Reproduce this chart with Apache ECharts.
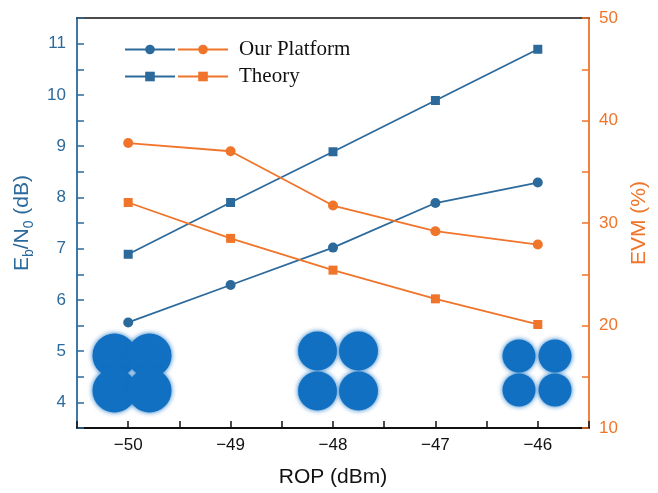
<!DOCTYPE html>
<html>
<head>
<meta charset="utf-8">
<script src="https://cdn.jsdelivr.net/npm/echarts@6/dist/echarts.min.js"></script>
<style>html,body{margin:0;padding:0;background:#fff;}#c{width:658px;height:493px;}</style>
</head>
<body>
<div id="c"></div>
<script>
// ---- data ----
var rop = [-50, -49, -48, -47, -46];
var ebn0Platform = [5.56, 6.29, 7.02, 7.89, 8.29];
var ebn0Theory = [6.89, 7.90, 8.89, 9.89, 10.89];
var evmPlatform = [37.8, 37.0, 31.7, 29.2, 27.9];
var evmTheory = [32.0, 28.5, 25.4, 22.6, 20.1];
// QPSK constellation symbol positions (I, Q)
var qpskPoints = [[-1, 1], [1, 1], [-1, -1], [1, -1]];
var legendNames = ['Our Platform', 'Theory'];

var BLUE = '#2c6a9c', ORANGE = '#f0742a', CBLUE = '#1170c2';

function pairs(xs, ys) { return xs.map(function (x, i) { return [x, ys[i]]; }); }

var chart = echarts.init(document.getElementById('c'), null, {renderer: 'canvas'});

var insets = [
  {left: 97, top: 338, width: 70, height: 70, size: 44},
  {left: 297, top: 331, width: 82, height: 80, size: 39},
  {left: 501, top: 339, width: 72, height: 68, size: 33}
];

var grids = [{left: 77, right: 69, top: 18, bottom: 63}];
var xAxes = [
  {type: 'value', min: -50.5, max: -45.5, interval: 0.5, gridIndex: 0,
   axisLine: {lineStyle: {color: '#111', width: 1.8}},
   axisTick: {inside: true, length: 7, lineStyle: {color: '#111', width: 1.5}},
   splitLine: {show: false},
   axisLabel: {color: '#111', fontSize: 17, fontFamily: 'Liberation Sans', margin: 9,
     formatter: function (v) { return v % 1 === 0 ? '\u2212' + Math.abs(v) : ''; }},
   name: 'ROP (dBm)', nameLocation: 'middle', nameGap: 39,
   nameTextStyle: {color: '#111', fontSize: 21, fontFamily: 'Liberation Sans'}},
  {type: 'value', position: 'top', min: -50.5, max: -45.5, gridIndex: 0,
   axisLine: {lineStyle: {color: '#111', width: 1.5}}, axisTick: {show: false},
   axisLabel: {show: false}, splitLine: {show: false}}
];
var yAxes = [
  {type: 'value', min: 3.5, max: 11.5, interval: 0.5, gridIndex: 0, position: 'left',
   axisLine: {show: true, lineStyle: {color: BLUE, width: 1.8}},
   axisTick: {show: true, inside: true, length: 7, lineStyle: {color: BLUE, width: 1.5}},
   splitLine: {show: false},
   axisLabel: {color: BLUE, fontSize: 17, fontFamily: 'Liberation Sans', margin: 11,
     formatter: function (v) { return v % 1 === 0 ? String(v) : ''; }},
   name: '{a|E}{s|b}{a|/N}{s|0}{a| (dB)}', nameLocation: 'middle', nameGap: 42,
   nameTextStyle: {color: BLUE, fontFamily: 'Liberation Sans',
     rich: {a: {fontSize: 21, color: BLUE, fontFamily: 'Liberation Sans'},
            s: {fontSize: 14, color: BLUE, fontFamily: 'Liberation Sans', verticalAlign: 'bottom', padding: [0, 0, -3, 0]}}}},
  {type: 'value', min: 10, max: 50, interval: 5, gridIndex: 0, position: 'right',
   axisLine: {show: true, lineStyle: {color: ORANGE, width: 1.8}},
   axisTick: {show: true, inside: true, length: 7, lineStyle: {color: ORANGE, width: 1.5}},
   splitLine: {show: false},
   axisLabel: {color: ORANGE, fontSize: 17, fontFamily: 'Liberation Sans', margin: 10,
     formatter: function (v) { return v % 10 === 0 ? String(v) : ''; }},
   name: 'EVM (%)', nameLocation: 'middle', nameGap: 35,
   nameTextStyle: {color: ORANGE, fontSize: 21, fontFamily: 'Liberation Sans'}}
];

var series = [
  {name: 'Our Platform Eb', type: 'line', xAxisIndex: 0, yAxisIndex: 0, data: pairs(rop, ebn0Platform),
   symbol: 'circle', symbolSize: 10, color: BLUE, lineStyle: {width: 1.8, color: BLUE}, itemStyle: {color: BLUE}, z: 5},
  {name: 'Theory Eb', type: 'line', xAxisIndex: 0, yAxisIndex: 0, data: pairs(rop, ebn0Theory),
   symbol: 'rect', symbolSize: 9, color: BLUE, lineStyle: {width: 1.8, color: BLUE}, itemStyle: {color: BLUE}, z: 5},
  {name: legendNames[0], type: 'line', xAxisIndex: 0, yAxisIndex: 1, data: pairs(rop, evmPlatform),
   symbol: 'circle', symbolSize: 10, color: ORANGE, lineStyle: {width: 1.8, color: ORANGE}, itemStyle: {color: ORANGE}, z: 5},
  {name: legendNames[1], type: 'line', xAxisIndex: 0, yAxisIndex: 1, data: pairs(rop, evmTheory),
   symbol: 'rect', symbolSize: 9, color: ORANGE, lineStyle: {width: 1.8, color: ORANGE}, itemStyle: {color: ORANGE}, z: 5}
];

insets.forEach(function (g, i) {
  grids.push({left: g.left, top: g.top, width: g.width, height: g.height});
  xAxes.push({type: 'value', gridIndex: i + 1, min: -2, max: 2, show: false});
  yAxes.push({type: 'value', gridIndex: i + 1, min: -2, max: 2, show: false});
  series.push({type: 'scatter', xAxisIndex: i + 2, yAxisIndex: i + 2, data: qpskPoints,
    symbol: 'circle', symbolSize: g.size, silent: true, z: 1,
    itemStyle: {color: CBLUE, opacity: 1, shadowBlur: 5, shadowColor: 'rgba(17,112,194,0.95)'}});
});

var legendText = {fontSize: 21, fontFamily: 'Liberation Serif', color: '#111', padding: [0, 0, 0, 6], lineHeight: 21};

chart.setOption({
  animation: false,
  backgroundColor: '#fff',
  grid: grids,
  xAxis: xAxes,
  yAxis: yAxes,
  legend: [
    {data: ['Our Platform Eb', 'Theory Eb'], orient: 'vertical', left: 119, top: 34, itemWidth: 50, itemHeight: 12,
     itemGap: 6, selectedMode: false,
     textStyle: Object.assign({}, legendText, {color: 'rgba(0,0,0,0)'})},
    {data: legendNames, orient: 'vertical', left: 172, top: 34, itemWidth: 50, itemHeight: 12,
     itemGap: 6, selectedMode: false, textStyle: legendText}
  ],
  series: series
});
</script>
</body>
</html>
